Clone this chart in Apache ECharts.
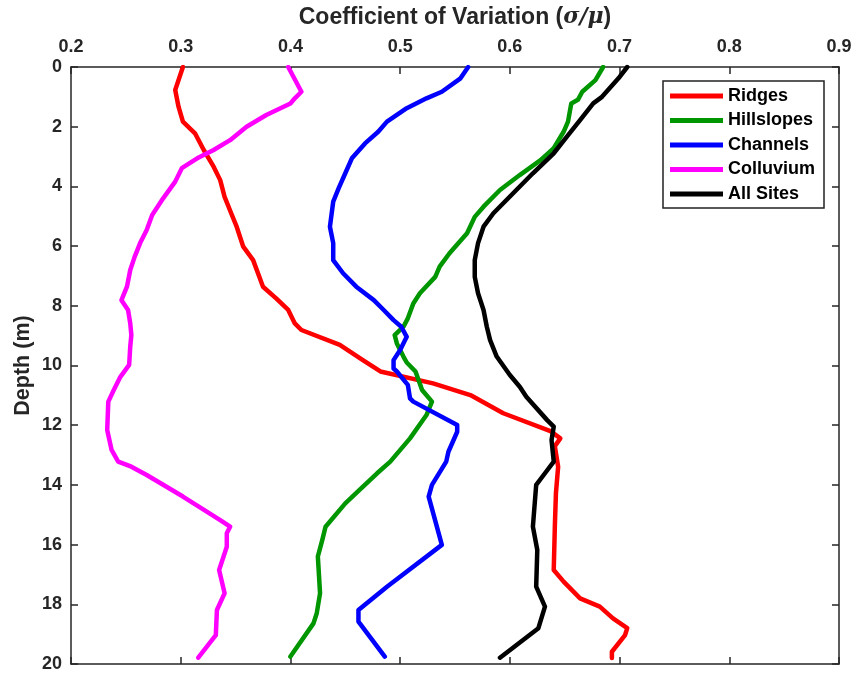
<!DOCTYPE html>
<html>
<head>
<meta charset="utf-8">
<title>Coefficient of Variation vs Depth</title>
<script src="https://cdn.jsdelivr.net/npm/echarts@6/dist/echarts.min.js"></script>
<style>
  html, body { margin: 0; padding: 0; background: #fff; }
  #chart { width: 860px; height: 676px; }
</style>
</head>
<body>
<div id="chart"></div>
<script>
// 每条曲线: [CV, 深度(m)]
const ridges = [[0.302,0],[0.295,0.77],[0.298,1.33],[0.302,1.83],[0.313,2.22],[0.321,2.78],[0.330,3.34],[0.336,3.79],[0.340,4.35],[0.346,4.9],[0.351,5.35],[0.357,6.02],[0.366,6.47],[0.375,7.36],[0.387,7.75],[0.398,8.14],[0.404,8.59],[0.410,8.81],[0.445,9.31],[0.466,9.82],[0.482,10.2],[0.530,10.6],[0.564,10.99],[0.594,11.6],[0.637,12.2],[0.646,12.44],[0.641,12.7],[0.644,13.39],[0.642,14.28],[0.641,15.4],[0.640,16.85],[0.649,17.24],[0.664,17.8],[0.682,18.08],[0.694,18.47],[0.707,18.8],[0.705,19.03],[0.693,19.59],[0.693,19.8]]
const hillslopes = [[0.685,0],[0.678,0.44],[0.666,0.83],[0.662,1.1],[0.656,1.22],[0.653,1.83],[0.649,2.17],[0.640,2.72],[0.628,3.12],[0.609,3.62],[0.591,4.12],[0.576,4.68],[0.568,5.02],[0.561,5.57],[0.545,6.24],[0.536,6.69],[0.532,7.03],[0.518,7.58],[0.512,7.92],[0.507,8.42],[0.503,8.7],[0.495,8.98],[0.497,9.26],[0.503,9.7],[0.506,9.9],[0.514,10.2],[0.520,10.82],[0.529,11.21],[0.524,11.66],[0.509,12.44],[0.491,13.22],[0.479,13.61],[0.463,14.17],[0.450,14.62],[0.432,15.4],[0.429,15.85],[0.425,16.4],[0.427,17.63],[0.424,18.3],[0.421,18.64],[0.400,19.75]]
const channels = [[0.562,0],[0.555,0.38],[0.538,0.83],[0.524,1.05],[0.506,1.38],[0.488,1.83],[0.480,2.17],[0.468,2.56],[0.456,3.06],[0.450,3.56],[0.444,4.06],[0.439,4.51],[0.436,5.35],[0.439,5.9],[0.439,6.47],[0.448,6.91],[0.460,7.36],[0.476,7.81],[0.485,8.14],[0.494,8.48],[0.501,8.7],[0.506,9.04],[0.500,9.48],[0.494,9.82],[0.494,10.1],[0.497,10.2],[0.507,10.65],[0.509,11.1],[0.512,11.21],[0.552,11.99],[0.552,12.22],[0.544,12.89],[0.542,13.22],[0.529,14.0],[0.526,14.39],[0.538,16.01],[0.488,17.41],[0.462,18.19],[0.462,18.58],[0.486,19.75]]
const colluvium = [[0.398,0],[0.410,0.83],[0.404,1.05],[0.400,1.22],[0.378,1.61],[0.360,2.0],[0.345,2.45],[0.330,2.78],[0.315,3.06],[0.301,3.39],[0.295,3.84],[0.284,4.4],[0.274,4.96],[0.269,5.46],[0.263,5.9],[0.258,6.36],[0.254,6.8],[0.251,7.36],[0.246,7.81],[0.252,8.14],[0.254,8.59],[0.255,8.98],[0.254,9.37],[0.253,9.98],[0.245,10.38],[0.239,10.82],[0.234,11.21],[0.233,12.16],[0.237,12.83],[0.243,13.22],[0.255,13.39],[0.269,13.67],[0.302,14.39],[0.336,15.18],[0.345,15.4],[0.342,15.62],[0.342,16.07],[0.335,16.85],[0.340,17.63],[0.333,18.19],[0.332,19.03],[0.316,19.79]]
const allSites = [[0.707,0],[0.699,0.38],[0.684,1.0],[0.676,1.22],[0.664,1.78],[0.652,2.33],[0.640,2.89],[0.621,3.56],[0.603,4.23],[0.585,4.9],[0.576,5.35],[0.571,5.9],[0.568,6.47],[0.568,7.03],[0.571,7.58],[0.576,8.14],[0.579,8.7],[0.582,9.15],[0.588,9.7],[0.600,10.32],[0.609,10.71],[0.615,11.05],[0.634,11.83],[0.640,12.05],[0.638,12.5],[0.640,13.22],[0.632,13.61],[0.624,14.0],[0.621,15.4],[0.625,16.18],[0.624,17.41],[0.632,18.08],[0.626,18.8],[0.591,19.79]]

const seriesNames = ['Ridges', 'Hillslopes', 'Channels', 'Colluvium', 'All Sites']
const seriesData = [ridges, hillslopes, channels, colluvium, allSites]
const seriesColors = ['#ff0000', '#009600', '#0000ff', '#ff00ff', '#000000']

const FONT = 'Arial, "Liberation Sans", Helvetica, sans-serif'
const AXIS_COLOR = '#262626'

const axisCommon = {
  axisLine: { show: true, onZero: false, lineStyle: { color: AXIS_COLOR, width: 1.5 } },
  axisTick: { show: true, inside: true, length: 7, lineStyle: { color: AXIS_COLOR, width: 1.5 } },
  splitLine: { show: false }
}

const myChart = echarts.init(document.getElementById('chart'))

const option = {
  backgroundColor: '#fff',
  animation: false,
  grid: { left: 71, right: 21, top: 67, bottom: 12, containLabel: false, outerBoundsMode: 'none' },
  legend: {
    data: seriesNames,
    orient: 'vertical',
    left: 663,
    top: 81,
    icon: 'rect',
    itemWidth: 53,
    itemHeight: 5,
    itemGap: 6.5,
    padding: [6, 9, 5, 7],
    borderColor: '#222',
    borderWidth: 1.5,
    backgroundColor: '#fff',
    textStyle: { fontFamily: FONT, fontWeight: 'bold', fontSize: 18, color: '#000', padding: [0, 0, 0, 0] }
  },
  xAxis: [
    Object.assign({
      type: 'value',
      position: 'top',
      min: 0.2,
      max: 0.9,
      interval: 0.1,
      name: '{t|Coefficient of Variation (}{i|σ/μ}{t|)}',
      nameLocation: 'middle',
      nameGap: 38,
      nameMoveOverlap: false,
      nameTextStyle: {
        rich: {
          t: { fontFamily: FONT, fontWeight: 'bold', fontSize: 23, color: AXIS_COLOR },
          i: { fontFamily: '"DejaVu Serif", "Times New Roman", serif', fontStyle: 'italic', fontWeight: 'bold', fontSize: 22, color: AXIS_COLOR }
        }
      },
      axisLabel: {
        margin: 11,
        fontFamily: FONT, fontWeight: 'bold', fontSize: 18, color: AXIS_COLOR,
        formatter: v => v.toFixed(1)
      }
    }, axisCommon),
    Object.assign({
      type: 'value',
      position: 'bottom',
      min: 0.2,
      max: 0.9,
      interval: 0.1,
      axisLabel: { show: false }
    }, axisCommon)
  ],
  yAxis: [
    Object.assign({
      type: 'value',
      position: 'left',
      inverse: true,
      min: 0,
      max: 20,
      interval: 2,
      name: 'Depth (m)',
      nameLocation: 'middle',
      nameGap: 37,
      nameMoveOverlap: false,
      nameRotate: 90,
      nameTextStyle: { fontFamily: FONT, fontWeight: 'bold', fontSize: 21.5, color: AXIS_COLOR },
      axisLabel: { margin: 9, fontFamily: FONT, fontWeight: 'bold', fontSize: 18, color: AXIS_COLOR }
    }, axisCommon),
    Object.assign({
      type: 'value',
      position: 'right',
      inverse: true,
      min: 0,
      max: 20,
      interval: 2,
      axisLabel: { show: false }
    }, axisCommon)
  ],
  series: seriesNames.map((name, i) => ({
    name: name,
    type: 'line',
    xAxisIndex: 0,
    yAxisIndex: 0,
    data: seriesData[i],
    showSymbol: false,
    symbol: 'none',
    color: seriesColors[i],
    lineStyle: { color: seriesColors[i], width: 4.5, cap: 'round', join: 'round' },
    z: 2 + i
  }))
}

myChart.setOption(option)
</script>
</body>
</html>
